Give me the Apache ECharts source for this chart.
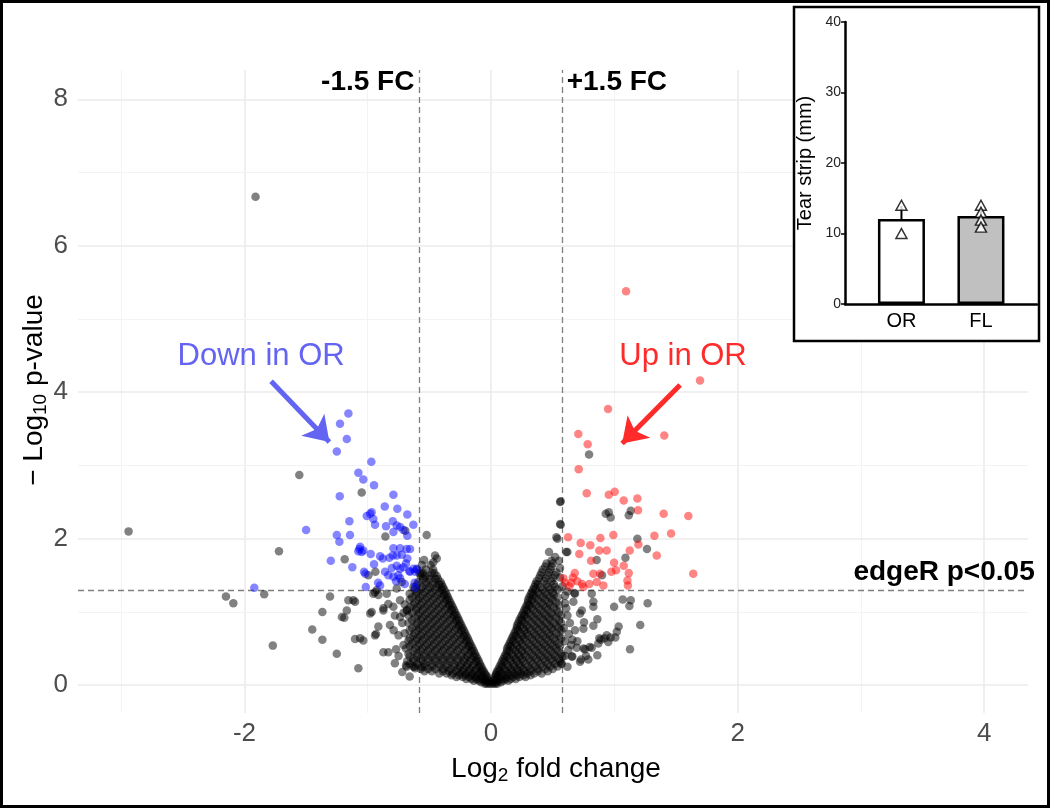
<!DOCTYPE html>
<html><head><meta charset="utf-8">
<script src="https://cdn.jsdelivr.net/npm/echarts@6.0.0/dist/echarts.min.js"></script>
<style>html,body{margin:0;padding:0;background:#fff}#main{width:1050px;height:808px}</style>
</head><body><div id="main"></div>
<script>
// ---------- data ----------
const xTicks = [-2, 0, 2, 4];
const yTicks = [0, 2, 4, 6, 8];
const xMajorGrid = [-2, 0, 2, 4];
const xMinorGrid = [-3, -1, 1, 3];
const yMajorGrid = [0, 2, 4, 6, 8];
const yMinorGrid = [1, 3, 5, 7];
const fcCut = 0.585;
const pCut = 1.301;

// Significant, down in OR (blue)
const downPoints = [
 [-1.157,3.71],[-1.225,3.57],[-1.17,3.36],[-1.251,3.19],[-0.971,3.05],[-1.076,2.90],[-1.036,2.81],[-0.949,2.73],
 [-1.227,2.58],[-0.792,2.60],[-0.862,2.44],[-0.76,2.41],[-0.968,2.36],[-0.981,2.34],[-1.008,2.31],[-0.955,2.27],
 [-0.941,2.19],[-0.679,2.33],[-1.149,2.24],[-0.797,2.24],[-0.765,2.18],[-0.63,2.19],[-0.852,2.17],[-0.738,2.16],
 [-0.711,2.12],[-0.792,2.09],[-1.50,2.12],[-0.679,2.04],[-1.251,2.05],[-1.23,1.96],[-1.144,2.05],[-0.792,1.87],
 [-0.738,1.87],[-0.684,1.86],[-0.657,1.86],[-1.068,1.86],[-1.049,1.82],[-1.076,1.83],[-0.976,1.79],[-0.90,1.76],
 [-0.878,1.73],[-0.825,1.74],[-0.797,1.77],[-0.765,1.77],[-0.724,1.78],[-0.679,1.73],[-1.30,1.70],[-1.125,1.61],
 [-0.805,1.60],[-0.765,1.63],[-0.738,1.59],[-0.711,1.61],[-0.603,1.59],[-0.616,1.55],[-0.949,1.65],[-1.03,1.55],
 [-0.833,1.50],[-0.792,1.48],[-0.752,1.50],[-0.738,1.46],[-0.657,1.55],[-0.916,1.40],[-0.90,1.36],[-1.016,1.34],
 [-0.616,1.33],[-1.02,1.52],[-0.663,1.56],[-0.63,1.59],[-1.92,1.33],[-0.62,1.40],[-0.70,1.38],[-0.77,1.42],
 [-0.86,1.55],[-0.69,1.66],[-1.062,1.89],[-1.036,1.84]
];

// Significant, up in OR (red)
const upPoints = [
 [1.095,5.38],[1.695,4.16],[0.949,3.77],[1.405,3.41],[0.708,3.43],[0.784,3.29],[0.711,2.95],[0.776,2.62],
 [0.955,2.60],[1.003,2.64],[1.076,2.52],[1.187,2.55],[1.192,2.39],[1.40,2.34],[1.60,2.31],[1.46,2.07],
 [1.325,2.04],[1.195,1.92],[1.344,1.77],[0.625,2.02],[0.887,2.01],[0.992,2.05],[0.727,1.94],[0.805,1.91],
 [0.878,1.84],[0.938,1.84],[0.716,1.79],[0.811,1.70],[0.998,1.67],[1.076,1.63],[1.125,1.84],[1.64,1.52],
 [1.117,1.53],[0.976,1.55],[1.014,1.57],[0.83,1.52],[0.884,1.52],[0.679,1.53],[0.663,1.47],[1.106,1.43],
 [1.11,1.36],[0.797,1.38],[0.857,1.41],[0.911,1.36],[0.738,1.38],[0.749,1.34],[0.635,1.35],[0.586,1.46],
 [0.60,1.40],[0.65,1.40],[0.70,1.42]
];

// Not significant (black), scattered points
const nsScatter = [
 [-1.91,6.67],[-2.94,2.10],[-1.72,1.83],[-2.15,1.21],[-2.09,1.12],[-1.84,1.24],[-1.45,0.76],[-1.77,0.54],
 [-1.555,2.87],[-1.049,2.63],[-0.695,2.11],[-0.857,2.03],[-0.522,2.05],[-1.187,1.72],[-0.938,1.55],[-0.995,1.50],
 [-0.724,1.41],[-0.765,1.32],[-0.562,1.52],[-0.535,1.48],[-0.454,1.77],[-0.44,1.73],[-0.468,1.68],[-0.543,1.71],
 [-0.941,1.27],[-0.914,1.23],[-1.157,1.16],[-1.117,1.16],[-1.306,1.21],[-1.368,1.0],[-1.368,0.62],[-1.251,0.43],
 [-1.076,0.23],[-1.103,1.14],[-1.17,1.02],[-1.21,0.93],[-1.19,0.92],[-1.103,0.63],[-1.062,0.64],[-1.036,0.61],
 [-0.98,0.98],[-0.968,1.0],[-0.933,0.70],[-0.914,0.80],[-0.873,1.05],[-0.833,1.11],[-0.873,0.45],[-0.833,0.45],
 [-0.77,0.49],[-0.82,0.82],[-0.79,0.75],[-0.684,0.25],[-0.616,0.23],[-0.738,1.16],[-0.684,1.02],[-0.738,0.93],
 [-0.846,1.25],[-0.941,0.68],[-0.69,0.27],[-0.63,0.25],[-0.562,0.25],[-0.873,1.02],[-0.792,1.07],[-0.955,1.25],
 [-0.927,1.30],[-0.71,0.55],[-0.75,0.68],[-0.72,0.85],[-0.78,0.95],[-0.70,1.10],[-0.66,1.25],[-0.75,0.40],
 [-0.78,0.30],[-0.72,0.18],[-0.66,0.12],
 [0.795,3.15],[0.93,2.34],[0.955,2.36],[0.97,2.29],[1.117,2.32],[1.133,2.38],[0.565,2.51],[0.565,2.19],
 [0.538,2.0],[1.187,2.0],[1.265,1.86],[0.619,1.82],[0.857,1.71],[1.09,1.74],[0.90,1.50],[0.676,1.26],
 [0.817,1.25],[1.068,1.17],[1.133,1.16],[1.122,1.08],[1.27,1.12],[0.998,1.07],[0.83,1.14],[0.83,1.07],
 [1.21,0.82],[1.035,0.80],[1.02,0.73],[1.008,0.65],[0.938,0.68],[0.951,0.59],[0.878,0.64],[0.87,0.57],
 [0.83,0.81],[0.862,0.90],[1.127,0.49],[0.862,0.41],[0.789,0.35],[0.722,0.32],[0.817,0.51],[0.762,0.49],
 [0.695,0.51],[0.754,0.86],[0.749,0.77],[0.681,0.75],[0.722,0.98],[0.736,1.02],[0.668,1.14],[0.681,1.25],
 [0.573,0.30],[0.654,0.39],[0.627,0.48],[0.53,2.02],[0.56,2.2],[0.56,2.5],[0.61,1.82],[0.49,1.7],[0.55,1.7],
 [0.56,1.47],[0.60,1.12],[0.62,0.95],[0.64,0.85],[0.60,0.60],[0.66,0.62],[0.63,0.70],[0.70,0.60],[0.62,1.28],
 [0.60,1.22],[0.92,0.64],[0.97,0.65],[0.89,0.62],[0.75,0.50],[0.80,0.52],[0.77,0.40],[0.73,0.35],[0.66,0.39],
 [0.62,0.25],[0.60,0.40],[0.65,0.55],[0.59,0.78],[0.61,1.05],[0.58,1.35],[0.52,1.75],[0.47,1.82],[0.56,1.60]
];

// Dense core of the volcano, rows: [y, x1, x2, ...]
const coreLeftRows = [
 [0.02,-0.01,-0.03,-0.05],
 [0.06,-0.02,-0.06,-0.10,-0.14],
 [0.11,-0.03,-0.08,-0.13,-0.18,-0.23,-0.28],
 [0.16,-0.05,-0.10,-0.15,-0.20,-0.25,-0.31,-0.36,-0.42],
 [0.22,-0.07,-0.12,-0.17,-0.22,-0.27,-0.33,-0.39,-0.45,-0.51,-0.57],
 [0.29,-0.09,-0.14,-0.19,-0.24,-0.30,-0.36,-0.42,-0.48,-0.54,-0.60,-0.66],
 [0.36,-0.11,-0.16,-0.21,-0.27,-0.33,-0.39,-0.45,-0.51,-0.57,-0.63],
 [0.43,-0.13,-0.18,-0.24,-0.30,-0.36,-0.42,-0.48,-0.54,-0.60,-0.67],
 [0.50,-0.15,-0.20,-0.26,-0.32,-0.38,-0.44,-0.50,-0.56,-0.62,-0.69],
 [0.57,-0.17,-0.22,-0.28,-0.34,-0.40,-0.46,-0.52,-0.58,-0.64],
 [0.64,-0.19,-0.24,-0.30,-0.36,-0.42,-0.48,-0.54,-0.60,-0.66],
 [0.71,-0.21,-0.26,-0.32,-0.38,-0.44,-0.50,-0.56,-0.62,-0.70],
 [0.78,-0.23,-0.28,-0.34,-0.40,-0.46,-0.52,-0.58,-0.64],
 [0.85,-0.25,-0.30,-0.36,-0.42,-0.48,-0.54,-0.60,-0.67],
 [0.92,-0.27,-0.32,-0.38,-0.44,-0.50,-0.56,-0.62],
 [0.99,-0.29,-0.34,-0.40,-0.46,-0.52,-0.58,-0.64,-0.71],
 [1.06,-0.31,-0.36,-0.42,-0.48,-0.54,-0.60,-0.66],
 [1.13,-0.33,-0.38,-0.44,-0.50,-0.56,-0.62],
 [1.20,-0.35,-0.40,-0.46,-0.52,-0.58,-0.64],
 [1.27,-0.37,-0.42,-0.48,-0.54,-0.60],
 [1.34,-0.39,-0.44,-0.50,-0.56,-0.63],
 [1.41,-0.41,-0.47,-0.53,-0.59],
 [1.49,-0.44,-0.50,-0.57],
 [1.58,-0.47,-0.53,-0.60],
 // staggered rows
 [0.04,-0.02,-0.04,-0.08],
 [0.085,-0.03,-0.05,-0.09,-0.12,-0.16,-0.20],
 [0.135,-0.04,-0.07,-0.11,-0.16,-0.21,-0.26,-0.32],
 [0.19,-0.06,-0.08,-0.13,-0.18,-0.23,-0.28,-0.34,-0.39,-0.48,-0.54],
 [0.255,-0.08,-0.10,-0.15,-0.20,-0.25,-0.30,-0.36,-0.42,-0.48,-0.54,-0.62],
 [0.325,-0.10,-0.12,-0.17,-0.22,-0.27,-0.33,-0.39,-0.45,-0.51,-0.57,-0.63,-0.68],
 [0.395,-0.12,-0.14,-0.19,-0.24,-0.30,-0.36,-0.42,-0.48,-0.54,-0.60,-0.66],
 [0.465,-0.14,-0.16,-0.21,-0.27,-0.33,-0.39,-0.45,-0.51,-0.57,-0.63],
 [0.535,-0.16,-0.18,-0.23,-0.29,-0.35,-0.41,-0.47,-0.53,-0.59,-0.66],
 [0.605,-0.18,-0.20,-0.25,-0.31,-0.37,-0.43,-0.49,-0.55,-0.61,-0.67],
 [0.675,-0.20,-0.22,-0.27,-0.33,-0.39,-0.45,-0.51,-0.57,-0.63],
 [0.745,-0.22,-0.24,-0.29,-0.35,-0.41,-0.47,-0.53,-0.59,-0.66],
 [0.815,-0.24,-0.26,-0.31,-0.37,-0.43,-0.49,-0.55,-0.61],
 [0.885,-0.26,-0.28,-0.33,-0.39,-0.45,-0.51,-0.57,-0.64],
 [0.955,-0.28,-0.30,-0.35,-0.41,-0.47,-0.53,-0.59,-0.67],
 [1.025,-0.30,-0.32,-0.37,-0.43,-0.49,-0.55,-0.61,-0.68],
 [1.095,-0.32,-0.34,-0.39,-0.45,-0.51,-0.57,-0.63],
 [1.165,-0.34,-0.36,-0.41,-0.47,-0.53,-0.59,-0.66],
 [1.235,-0.36,-0.38,-0.43,-0.49,-0.55,-0.61],
 [1.305,-0.38,-0.40,-0.45,-0.51,-0.57,-0.62],
 [1.375,-0.40,-0.42,-0.47,-0.53,-0.60],
 [1.45,-0.43,-0.45,-0.50,-0.55],
 [1.53,-0.46,-0.48,-0.55,-0.58],
 [1.64,-0.49,-0.56]
];
const coreRightRows = [
 [0.02,0.01,0.03,0.05],
 [0.06,0.02,0.06,0.10,0.14],
 [0.11,0.03,0.08,0.13,0.18,0.23,0.28],
 [0.16,0.04,0.09,0.14,0.19,0.24,0.29,0.35,0.41],
 [0.22,0.06,0.11,0.16,0.21,0.26,0.32,0.38,0.44,0.50],
 [0.29,0.08,0.13,0.18,0.23,0.28,0.34,0.40,0.46,0.52,0.57],
 [0.36,0.10,0.15,0.20,0.25,0.31,0.37,0.43,0.49,0.55],
 [0.43,0.12,0.17,0.22,0.27,0.33,0.39,0.45,0.51,0.57],
 [0.50,0.13,0.18,0.23,0.29,0.35,0.41,0.47,0.53],
 [0.57,0.15,0.20,0.25,0.31,0.37,0.43,0.49,0.55],
 [0.64,0.17,0.22,0.27,0.33,0.39,0.45,0.51,0.57],
 [0.71,0.19,0.24,0.29,0.35,0.41,0.47,0.53],
 [0.78,0.21,0.26,0.31,0.37,0.43,0.49,0.55],
 [0.85,0.22,0.27,0.33,0.39,0.45,0.51,0.57],
 [0.92,0.24,0.29,0.35,0.41,0.47,0.53],
 [0.99,0.26,0.31,0.37,0.43,0.49,0.55],
 [1.06,0.28,0.33,0.39,0.45,0.51],
 [1.13,0.30,0.35,0.41,0.47,0.53],
 [1.20,0.31,0.36,0.42,0.48,0.54],
 [1.27,0.33,0.38,0.44,0.50],
 [1.34,0.35,0.40,0.46,0.52],
 [1.42,0.37,0.43,0.49],
 [1.50,0.40,0.46,0.52],
 [1.58,0.42,0.48],
 [1.66,0.45,0.50],
 // staggered rows
 [0.04,0.02,0.04,0.08],
 [0.085,0.03,0.05,0.09,0.12,0.16,0.20],
 [0.135,0.04,0.06,0.11,0.16,0.21,0.26,0.32],
 [0.19,0.05,0.07,0.12,0.17,0.22,0.27,0.32,0.38,0.46],
 [0.255,0.07,0.09,0.14,0.19,0.24,0.30,0.36,0.42,0.48,0.54],
 [0.325,0.09,0.11,0.16,0.21,0.26,0.32,0.38,0.44,0.50,0.56],
 [0.395,0.11,0.13,0.18,0.23,0.28,0.34,0.40,0.46,0.52,0.58],
 [0.465,0.13,0.15,0.20,0.25,0.30,0.36,0.42,0.48,0.54],
 [0.535,0.14,0.16,0.21,0.26,0.32,0.38,0.44,0.50,0.56],
 [0.605,0.16,0.18,0.23,0.28,0.34,0.40,0.46,0.52],
 [0.675,0.18,0.20,0.25,0.30,0.36,0.42,0.48,0.55],
 [0.745,0.20,0.22,0.27,0.32,0.38,0.44,0.50,0.57],
 [0.815,0.21,0.24,0.29,0.35,0.41,0.47,0.53],
 [0.885,0.23,0.25,0.30,0.36,0.42,0.48,0.55],
 [0.955,0.25,0.27,0.32,0.38,0.44,0.50,0.57],
 [1.025,0.27,0.29,0.34,0.40,0.46,0.53],
 [1.095,0.29,0.31,0.36,0.42,0.48,0.55],
 [1.165,0.30,0.33,0.38,0.44,0.50],
 [1.235,0.32,0.34,0.39,0.45,0.51],
 [1.305,0.34,0.36,0.42,0.48,0.54],
 [1.38,0.36,0.38,0.45,0.51],
 [1.46,0.39,0.44,0.50],
 [1.54,0.41,0.47,0.53],
 [1.62,0.44,0.49]
];

// Inset bar chart
const insetCats = ['OR', 'FL'];
const insetMeans = [12.06, 12.5];
const insetErrTop = [13.9, 13.8];
const orPoints = [10.0, 14.0];
const flPoints = [14.0, 13.0, 11.9, 10.9];

// ---------- build ----------
function rowsToPoints(rows) {
  const out = [];
  rows.forEach(r => { for (let i = 1; i < r.length; i++) out.push([r[i], r[0]]); });
  return out;
}
const nsPoints = nsScatter.concat(rowsToPoints(coreLeftRows), rowsToPoints(coreRightRows));

const FONT = 'Liberation Sans, Arial, sans-serif';
const chart = echarts.init(document.getElementById('main'), null, {renderer: 'canvas'});

const gridLineData = []
  .concat(xMajorGrid.map(v => ({xAxis: v, lineStyle: {color: '#EBEBEB', width: 1.6}})))
  .concat(xMinorGrid.map(v => ({xAxis: v, lineStyle: {color: '#F3F3F3', width: 1.1}})))
  .concat(yMajorGrid.map(v => ({yAxis: v, lineStyle: {color: '#EBEBEB', width: 1.6}})))
  .concat(yMinorGrid.map(v => ({yAxis: v, lineStyle: {color: '#F3F3F3', width: 1.1}})));

const annoLabel = (txt, pos, extra) => Object.assign({
  show: true, position: pos, formatter: txt, fontFamily: FONT,
  fontSize: 28, fontWeight: 'bold', color: '#000', distance: 3
}, extra || {});

const option = {
  animation: false,
  backgroundColor: '#fff',
  textStyle: {fontFamily: FONT},
  grid: [
    {left: 78, right: 22, top: 70, bottom: 95},
    {left: 845, top: 22, width: 192, height: 282}
  ],
  xAxis: [
    {type: 'value', gridIndex: 0, min: -3.35, max: 4.355,
     axisLine: {show: false}, axisTick: {show: false}, splitLine: {show: false},
     axisLabel: {customValues: xTicks, color: '#4D4D4D', fontSize: 26, margin: 8, fontFamily: FONT}},
    {type: 'value', gridIndex: 1, min: -0.71, max: 1.705, zlevel: 2,
     axisLine: {show: true, onZero: false, lineStyle: {color: '#000', width: 2.5}},
     axisTick: {show: false}, splitLine: {show: false},
     axisLabel: {customValues: [0, 1], formatter: v => insetCats[Math.round(v)], color: '#000', fontSize: 20, margin: 7, fontFamily: FONT}}
  ],
  yAxis: [
    {type: 'value', gridIndex: 0, min: -0.38, max: 8.4,
     axisLine: {show: false}, axisTick: {show: false}, splitLine: {show: false},
     axisLabel: {customValues: yTicks, color: '#4D4D4D', fontSize: 26, margin: 10, fontFamily: FONT}},
    {type: 'value', gridIndex: 1, min: 0, max: 40, interval: 10, zlevel: 2,
     name: 'Tear strip (mm)', nameLocation: 'middle', nameGap: 30,
     nameTextStyle: {fontSize: 20, color: '#000', fontFamily: FONT},
     axisLine: {show: true, onZero: false, lineStyle: {color: '#000', width: 2.5}},
     axisTick: {show: true, length: 4, lineStyle: {color: '#000', width: 1.5}},
     splitLine: {show: false},
     axisLabel: {color: '#222', fontSize: 14, margin: 4, fontFamily: FONT}}
  ],
  series: [
    {type: 'scatter', xAxisIndex: 0, yAxisIndex: 0, data: [], z: 0, silent: true,
     markLine: {silent: true, z: 0, symbol: ['none', 'none'], label: {show: false},
       lineStyle: {type: 'solid'}, data: gridLineData}},
    {type: 'scatter', xAxisIndex: 0, yAxisIndex: 0, data: [], z: 1, silent: true,
     markLine: {silent: true, z: 1, symbol: ['none', 'none'], label: {show: false},
       lineStyle: {type: [6, 4], color: '#7F7F7F', width: 1.3},
       data: [{xAxis: -fcCut}, {xAxis: fcCut}, {yAxis: pCut}]}},
    {type: 'scatter', name: 'ns', xAxisIndex: 0, yAxisIndex: 0, z: 2, data: nsPoints,
     symbolSize: 8.5, itemStyle: {color: 'rgba(0,0,0,0.62)'}},
    {type: 'scatter', name: 'down', xAxisIndex: 0, yAxisIndex: 0, z: 3, data: downPoints,
     symbolSize: 8.5, itemStyle: {color: 'rgba(0,0,255,0.6)'}},
    {type: 'scatter', name: 'up', xAxisIndex: 0, yAxisIndex: 0, z: 3, data: upPoints,
     symbolSize: 8.5, itemStyle: {color: 'rgba(255,0,0,0.6)'}},
    // annotations: labels
    {type: 'scatter', xAxisIndex: 0, yAxisIndex: 0, data: [], z: 6, silent: true,
     markPoint: {silent: true, z: 6, symbol: 'circle', symbolSize: 1, itemStyle: {color: 'rgba(0,0,0,0)'},
       data: [
         {coord: [-fcCut, 8.23], label: annoLabel('-1.5 FC', 'left', {distance: 4})},
         {coord: [fcCut, 8.23], label: annoLabel('+1.5 FC', 'right', {distance: 3})},
         {coord: [4.30, 1.54], label: annoLabel('edgeR p<0.05', 'left', {distance: 0, offset: [14, 0]})},
         {coord: [-1.865, 4.49], label: annoLabel('Down in OR', 'inside', {fontWeight: 'normal', fontSize: 31, color: '#6464F2'})},
         {coord: [1.557, 4.49], label: annoLabel('Up in OR', 'inside', {fontWeight: 'normal', fontSize: 31, color: '#FF2A2A'})}
       ]}},
    // annotations: arrows
    {type: 'scatter', xAxisIndex: 0, yAxisIndex: 0, data: [], z: 6, silent: true,
     color: '#6464F2',
     markLine: {silent: true, z: 6, symbol: ['none', 'arrow'], symbolSize: 24, label: {show: false},
       lineStyle: {color: '#6464F2', width: 5, type: 'solid'},
       itemStyle: {color: '#6464F2'},
       data: [[{coord: [-1.784, 4.15]}, {coord: [-1.311, 3.32]}]]}},
    {type: 'scatter', xAxisIndex: 0, yAxisIndex: 0, data: [], z: 6, silent: true,
     color: '#FF2A2A',
     markLine: {silent: true, z: 6, symbol: ['none', 'arrow'], symbolSize: 24, label: {show: false},
       lineStyle: {color: '#FF2A2A', width: 5, type: 'solid'},
       itemStyle: {color: '#FF2A2A'},
       data: [[{coord: [1.533, 4.10]}, {coord: [1.063, 3.30]}]]}},
    // inset
    {type: 'bar', xAxisIndex: 1, yAxisIndex: 1, zlevel: 2, z: 2, barWidth: 47,
     data: insetMeans.map((v, i) => ({value: [i, v], itemStyle: {
       color: i === 0 ? '#FFFFFF' : '#C0C0C0', borderColor: '#000', borderWidth: 2.5}}))},
    {type: 'line', xAxisIndex: 1, yAxisIndex: 1, zlevel: 2, z: 3, symbol: 'none',
     lineStyle: {color: '#000', width: 2}, data: [[0, insetMeans[0]], [0, insetErrTop[0]]]},
    {type: 'line', xAxisIndex: 1, yAxisIndex: 1, zlevel: 2, z: 3, symbol: 'none',
     lineStyle: {color: '#000', width: 2}, data: [[1, insetMeans[1]], [1, insetErrTop[1]]]},
    {type: 'scatter', xAxisIndex: 1, yAxisIndex: 1, zlevel: 2, z: 4, symbol: 'triangle', symbolSize: [11, 10],
     itemStyle: {color: '#fff', borderColor: '#000', borderWidth: 1.5},
     data: orPoints.map(v => [0, v]).concat(flPoints.map(v => [1, v]))}
  ],
  graphic: [
    {type: 'rect', zlevel: 1, z: 0, silent: true,
     shape: {x: 794, y: 7, width: 245, height: 334},
     style: {fill: '#fff', stroke: '#000', lineWidth: 2.5}},
    {type: 'rect', zlevel: 2, z: 10, silent: true,
     shape: {x: 1.5, y: 1.5, width: 1047, height: 805},
     style: {fill: 'none', stroke: '#000', lineWidth: 3}},
    {type: 'text', x: 556, y: 770, silent: true,
     style: {text: '{a|Log}{s|2}{a| fold change}', align: 'center', verticalAlign: 'middle',
       textAlign: 'center', textVerticalAlign: 'middle',
       rich: {a: {fontSize: 28, fontFamily: FONT, fill: '#000', color: '#000', lineHeight: 30, verticalAlign: 'top'},
              s: {fontSize: 19, fontFamily: FONT, fill: '#000', color: '#000', lineHeight: 19, padding: [14, 0, 0, 0], verticalAlign: 'bottom'}}}},
    {type: 'text', x: 35, y: 390, rotation: Math.PI / 2, silent: true,
     style: {text: '{a|\u2212 Log}{s|10}{a| p-value}', align: 'center', verticalAlign: 'middle',
       textAlign: 'center', textVerticalAlign: 'middle',
       rich: {a: {fontSize: 28, fontFamily: FONT, fill: '#000', color: '#000', lineHeight: 30, verticalAlign: 'top'},
              s: {fontSize: 19, fontFamily: FONT, fill: '#000', color: '#000', lineHeight: 19, padding: [14, 0, 0, 0], verticalAlign: 'bottom'}}}}
  ]
};
chart.setOption(option);
</script></body></html>
